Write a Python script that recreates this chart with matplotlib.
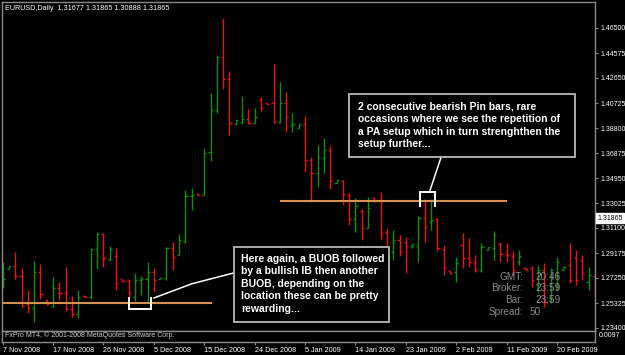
import numpy as np
import matplotlib
matplotlib.use("Agg")
import matplotlib.pyplot as plt
from matplotlib.patches import Rectangle
import matplotlib.transforms as mtransforms

# ── Data (EURUSD daily) ───────────────────────────────────────────────────────
opens = [1.2671, 1.2794, 1.2817, 1.2740, 1.2525, 1.2494, 1.2771, 1.2556, 1.2509, 1.2648,
         1.2610, 1.2486, 1.2448, 1.2586, 1.2579, 1.2948, 1.3064, 1.2871, 1.2894, 1.2717,
         1.2710, 1.2579, 1.2710, 1.2717, 1.2771, 1.2717, 1.2725, 1.2956, 1.2902, 1.3010,
         1.3356, 1.3372, 1.3364, 1.3695, 1.4019, 1.4427, 1.4257, 1.3911, 1.3926, 1.3949,
         1.3919, 1.4096, 1.4073, 1.4073, 1.3926, 1.4073, 1.3903, 1.3880, 1.3911, 1.3634,
         1.3533, 1.3649, 1.3711, 1.3457, 1.3472, 1.3364, 1.3179, 1.3241, 1.3110, 1.3341,
         1.3326, 1.3079, 1.2925, 1.3018, 1.3002, 1.2971, 1.2971, 1.3187, 1.3156, 1.3179,
         1.2948, 1.2779, 1.2771, 1.2979, 1.2879, 1.2848, 1.2787, 1.2941, 1.2956, 1.2987,
         1.2918, 1.2894, 1.2848, 1.2802, 1.2802, 1.2671, 1.2787, 1.2556, 1.2671, 1.2787,
         1.2825, 1.2879, 1.2864, 1.2694, 1.2740]
highs = [1.2848, 1.2817, 1.2925, 1.2802, 1.2633, 1.2856, 1.2833, 1.2556, 1.2733, 1.2694,
         1.2810, 1.2586, 1.2633, 1.2586, 1.2956, 1.3079, 1.3072, 1.2971, 1.2956, 1.2717,
         1.2710, 1.2764, 1.2740, 1.2848, 1.2802, 1.2725, 1.2964, 1.3002, 1.3064, 1.3403,
         1.3418, 1.3372, 1.3726, 1.4150, 1.4442, 1.4727, 1.4319, 1.3942, 1.4126, 1.4026,
         1.4034, 1.4119, 1.4073, 1.4373, 1.4234, 1.4157, 1.3996, 1.3911, 1.3972, 1.3657,
         1.3749, 1.3803, 1.3741, 1.3480, 1.3480, 1.3380, 1.3341, 1.3256, 1.3349, 1.3341,
         1.3387, 1.3110, 1.3095, 1.3056, 1.3041, 1.2987, 1.3202, 1.3333, 1.3333, 1.3187,
         1.2979, 1.2779, 1.2887, 1.3072, 1.3033, 1.2902, 1.2995, 1.2964, 1.3087, 1.3002,
         1.2995, 1.2933, 1.2941, 1.2802, 1.2817, 1.2825, 1.2841, 1.2802, 1.2887, 1.2810,
         1.2995, 1.2941, 1.2902, 1.2810, 1.2748]
lows = [1.2648, 1.2794, 1.2717, 1.2502, 1.2455, 1.2386, 1.2563, 1.2517, 1.2502, 1.2556,
        1.2471, 1.2425, 1.2417, 1.2579, 1.2563, 1.2794, 1.2810, 1.2856, 1.2633, 1.2702,
        1.2571, 1.2548, 1.2594, 1.2540, 1.2617, 1.2717, 1.2710, 1.2787, 1.2902, 1.2995,
        1.3249, 1.3364, 1.3364, 1.3626, 1.3996, 1.4180, 1.3826, 1.3911, 1.3911, 1.3919,
        1.3919, 1.4011, 1.4065, 1.3919, 1.3919, 1.3849, 1.3849, 1.3880, 1.3541, 1.3310,
        1.3426, 1.3533, 1.3410, 1.3457, 1.3287, 1.3133, 1.3079, 1.3018, 1.3110, 1.3310,
        1.3018, 1.2902, 1.2864, 1.2894, 1.2764, 1.2956, 1.2848, 1.3002, 1.3095, 1.2933,
        1.2748, 1.2764, 1.2694, 1.2802, 1.2810, 1.2771, 1.2771, 1.2941, 1.2864, 1.2848,
        1.2848, 1.2748, 1.2825, 1.2787, 1.2656, 1.2617, 1.2502, 1.2533, 1.2633, 1.2787,
        1.2686, 1.2671, 1.2710, 1.2633, 1.2594]
closes = [1.2717, 1.2817, 1.2740, 1.2509, 1.2494, 1.2771, 1.2602, 1.2525, 1.2648, 1.2610,
          1.2486, 1.2448, 1.2579, 1.2579, 1.2948, 1.3064, 1.2879, 1.2948, 1.2686, 1.2702,
          1.2610, 1.2710, 1.2717, 1.2771, 1.2710, 1.2725, 1.2956, 1.2887, 1.3018, 1.3356,
          1.3364, 1.3364, 1.3688, 1.4019, 1.4427, 1.4257, 1.3919, 1.3942, 1.3949, 1.3919,
          1.3965, 1.4034, 1.4065, 1.3926, 1.4073, 1.3965, 1.3911, 1.3911, 1.3634, 1.3533,
          1.3657, 1.3711, 1.3472, 1.3480, 1.3372, 1.3179, 1.3279, 1.3110, 1.3264, 1.3318,
          1.3072, 1.2941, 1.3018, 1.2933, 1.2971, 1.2987, 1.3187, 1.3118, 1.3172, 1.2956,
          1.2802, 1.2764, 1.2841, 1.2879, 1.2848, 1.2787, 1.2964, 1.2964, 1.3056, 1.2910,
          1.2902, 1.2787, 1.2894, 1.2787, 1.2710, 1.2787, 1.2540, 1.2787, 1.2848, 1.2810,
          1.2710, 1.2710, 1.2764, 1.2748, 1.2602]

date_ticks = [0, 8, 16, 24, 32, 40, 48, 56, 64, 72, 80, 88]
date_labels = ["7 Nov 2008", "17 Nov 2008", "26 Nov 2008", "5 Dec 2008", "15 Dec 2008",
               "24 Dec 2008", "5 Jan 2009", "14 Jan 2009", "23 Jan 2009", "2 Feb 2009",
               "11 Feb 2009", "20 Feb 2009"]
price_ticks = [1.23400, 1.25325, 1.27250, 1.29175, 1.31100, 1.33025, 1.34950,
               1.36875, 1.38800, 1.40725, 1.42650, 1.44575, 1.46500]

header = "EURUSD,Daily  1.31677 1.31865 1.30888 1.31865"
last_price = 1.31865
support_level = 1.2535
resist_level = 1.3320

upper_note = ["2 consecutive bearish Pin bars, rare",
              "occasions where we see the repetition of",
              "a PA setup which in turn strenghthen the",
              "setup further..."]
lower_note = ["Here again, a BUOB followed",
              "by a bullish IB then another",
              "BUOB, depending on the",
              "location these can be pretty",
              "rewarding..."]
info_labels = ["GMT:", "Broker:", "Bar:", "Spread:"]
info_values = ["20:46", "23:59", "23:59", "50"]

# ── Style ─────────────────────────────────────────────────────────────────────
BG = "black"
UP = "#0e900e"
DOWN = "#ee1111"
FRAME = "#8a8a8a"
ORANGE = "#d8914a"
INFO = "#8c8c8c"

plt.rcParams.update({
    "font.family": "Liberation Sans",
    "axes.facecolor": BG,
    "figure.facecolor": BG,
})

fig = plt.figure(figsize=(6.25, 3.55), dpi=100)
ax = fig.add_axes([2 / 625, 24 / 355, 593 / 625, 329 / 355])
ax.set_xlim(-0.11, 94.02)
ax.set_ylim(1.23169, 1.48502)

# ── OHLC bars ─────────────────────────────────────────────────────────────────
x = np.arange(len(opens))
colors = [UP if c >= o else DOWN for o, c in zip(opens, closes)]
ax.vlines(x, lows, highs, colors=colors, linewidth=1.0)
ax.hlines(opens, x - 0.34, x, colors=colors, linewidth=1.0)
ax.hlines(closes, x, x + 0.34, colors=colors, linewidth=1.0)

# ── Frame / axes ──────────────────────────────────────────────────────────────
for s in ax.spines.values():
    s.set_color(FRAME)
    s.set_linewidth(1.0)
ax.set_xticks([])
ax.yaxis.tick_right()
ax.set_yticks(price_ticks)
ax.set_yticklabels([f"{p:.5f}" for p in price_ticks])
ax.tick_params(axis="y", colors=FRAME, labelcolor="white", labelsize=5,
               length=2.5, width=0.8, pad=1.2)

trans = mtransforms.blended_transform_factory(ax.transAxes, ax.transData)
ax.text(1.004, last_price, f"{last_price:.5f}", transform=trans, fontsize=5,
        color="black", va="center", ha="left", clip_on=False,
        bbox=dict(boxstyle="square,pad=0.25", fc="white", ec="white"))

ax.text(0.005, 0.981, header, transform=ax.transAxes, color="white",
        fontsize=5.2, va="center", ha="left")

# ── Annotations ───────────────────────────────────────────────────────────────
ax.hlines(support_level, -0.2, 33.2, color=ORANGE, linewidth=1.5, zorder=3)
ax.hlines(resist_level, 44.0, 80.0, color=ORANGE, linewidth=1.5, zorder=3)

# brackets
ax.plot([20.1, 20.1, 23.6, 23.6], [1.2568, 1.2484, 1.2484, 1.2568],
        color="white", linewidth=1.4, zorder=4, solid_joinstyle="miter")
ax.plot([66.2, 66.2, 68.6, 68.6], [1.3279, 1.3390, 1.3390, 1.3279],
        color="white", linewidth=1.4, zorder=4, solid_joinstyle="miter")

# callout lines
ax.plot([24.0, 30.0, 36.6], [1.2571, 1.2680, 1.2763], color="white", linewidth=1.1, zorder=4)
ax.plot([67.8, 69.6], [1.3395, 1.3657], color="white", linewidth=1.1, zorder=4)

# text boxes
ax.add_patch(Rectangle((55.0, 1.3657), 35.9, 0.0485, facecolor=BG,
                       edgecolor="#b8b8b8", linewidth=1.3, zorder=5))
ax.add_patch(Rectangle((36.7, 1.2386), 24.6, 0.0578, facecolor=BG,
                       edgecolor="#b8b8b8", linewidth=1.3, zorder=5))

step = 0.00955
for k, line in enumerate(upper_note):
    ax.text(56.4, 1.4042 - k * step, line, color="white", fontsize=7.5,
            fontweight="bold", va="center", ha="left", zorder=6)
for k, line in enumerate(lower_note):
    ax.text(37.9, 1.2871 - k * step, line, color="white", fontsize=7.5,
            fontweight="bold", va="center", ha="left", zorder=6)

# info overlay
for k, (lab, val) in enumerate(zip(info_labels, info_values)):
    yk = 1.2735 - k * 0.0090
    ax.text(82.6, yk, lab, color=INFO, fontsize=7.2, va="center", ha="right", zorder=6)
    ax.text(84.5 if k < 3 else 83.6, yk, val, color=INFO, fontsize=7.2,
            va="center", ha="left", zorder=6)

# ── Sub window + date axis ────────────────────────────────────────────────────
sub = fig.add_axes([2 / 625, 13 / 355, 593 / 625, 11 / 355])
sub.set_xlim(-0.11, 94.02)
sub.set_ylim(0, 1)
for s in sub.spines.values():
    s.set_color(FRAME)
    s.set_linewidth(1.0)
sub.set_yticks([])
sub.set_xticks(date_ticks)
sub.set_xticklabels(date_labels, ha="left")
sub.tick_params(axis="x", colors=FRAME, labelcolor="white", labelsize=5.2,
                length=2.5, width=0.8, pad=0.8)
sub.text(0.005, 0.62, "FxPro MT4, \u00a9 2001-2008 MetaQuotes Software Corp.",
         transform=sub.transAxes, color="#d0d0d0", fontsize=5, va="center", ha="left")
sub.text(1.006, 0.55, "0.0097", transform=sub.transAxes, color="white",
         fontsize=5, va="center", ha="left", clip_on=False)

fig.savefig("out.png", dpi=100, facecolor=BG)
